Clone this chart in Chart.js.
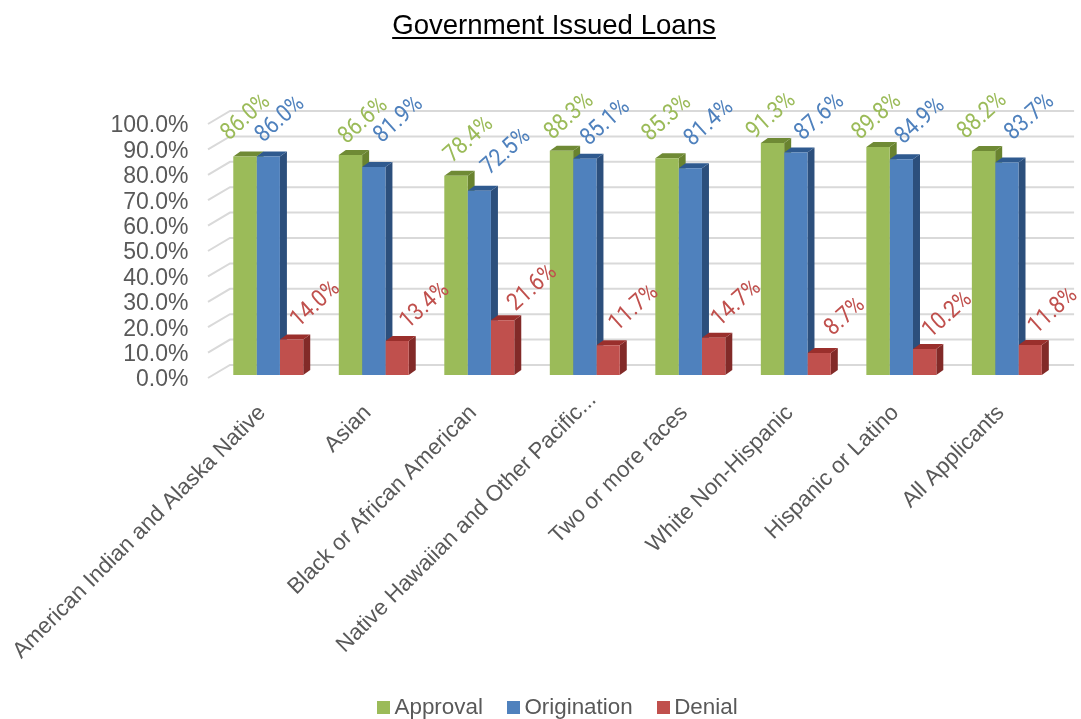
<!DOCTYPE html>
<html>
<head>
<meta charset="utf-8">
<title>Government Issued Loans</title>
<script src="https://cdn.jsdelivr.net/npm/chart.js@4/dist/chart.umd.min.js"></script>
<style>
  html, body { margin: 0; padding: 0; background: #fff; }
  #wrap { position: relative; width: 1081px; height: 719px; overflow: hidden; font-family: "Liberation Sans", sans-serif; }
  #title { position: absolute; left: 354px; width: 400px; top: 8px; margin: 0; text-align: center; font-size: 27.6px; line-height: 34px; font-weight: normal; color: #000; text-decoration: underline; text-decoration-thickness: 2px; text-underline-offset: 3px; }
  #legend { position: absolute; left: 377px; top: 694px; display: flex; font-size: 22.4px; line-height: 26px; color: #595959; }
  #legend .item { display: flex; align-items: center; margin-right: 24px; }
  #legend .box { width: 13px; height: 13px; margin-right: 4.5px; }
</style>
</head>
<body>
<div id="wrap">
  <h1 id="title">Government Issued Loans</h1>
  <canvas id="loans" width="1081" height="719"></canvas>
  <div id="legend"></div>
</div>
<script>
const categories = ['American Indian and Alaska Native', 'Asian', 'Black or African American', 'Native Hawaiian and Other Pacific...', 'Two or more races', 'White Non-Hispanic', 'Hispanic or Latino', 'All Applicants'];

const approval = [86.0, 86.6, 78.4, 88.3, 85.3, 91.3, 89.8, 88.2];
const origination = [86.0, 81.9, 72.5, 85.1, 81.4, 87.6, 84.9, 83.7];
const denial = [14.0, 13.4, 21.6, 11.7, 14.7, 8.7, 10.2, 11.8];

const seriesNames = ['Approval', 'Origination', 'Denial'];

//front, top and side face of each series, light to dark
const frontColors = ['#9bbb59', '#4f81bd', '#c0504d'];
const topColors = ['#6f8a35', '#2f5a8f', '#9a2f2c'];
const sideColors = ['#69832f', '#2c4f7c', '#822a28'];

//hand placed value labels, distance from the bar's top centre
const labelNudges = [
  [[1, -39], [13, -34], [13, -36], [8, -34], [0, -40], [-1, -27], [-1, -30], [-1, -35]],
  [[12, -37], [25, -47], [27, -39], [21, -36], [19, -45], [24, -35], [19, -38], [23, -45]],
  [[24, -35], [28, -35], [30, -32], [26, -37], [23, -34], [26, -36], [23, -34], [23, -34]]
];

//how far the bars and the back wall sit behind the front plane
const BAR_DEPTH = { x: 7, y: 5 };
const WALL_DEPTH = { x: 14.5, y: 10 };

const FONT = '"Liberation Sans", sans-serif';

/* Back wall lines with the short slanted piece on the side wall.
   Replaces the normal grid, which can't be pushed behind the bars. */
const wallGrid = {
  id: 'wallGrid',
  beforeDatasetsDraw(chart) {
    const { ctx, chartArea, scales } = chart;
    const backLeft = chartArea.left + WALL_DEPTH.x;
    const backRight = chartArea.right + WALL_DEPTH.x;
    ctx.save();
    ctx.strokeStyle = '#d9d9d9';
    ctx.lineWidth = 2;
    scales.y.ticks.forEach(tick => {
      const y = scales.y.getPixelForValue(tick.value) - WALL_DEPTH.y;
      ctx.beginPath();
      ctx.moveTo(backLeft - 22, y + 13);
      ctx.lineTo(backLeft, y);
      ctx.lineTo(backRight, y);
      ctx.stroke();
    });
    ctx.restore();
  }
};

/* Top and side faces, painted series by series so a lower bar's top
   covers the side of its taller neighbour. The library then fills the fronts. */
const barFaces = {
  id: 'barFaces',
  beforeDatasetsDraw(chart) {
    const { ctx } = chart;
    ctx.save();
    chart.data.datasets.forEach((dataset, d) => {
      chart.getDatasetMeta(d).data.forEach(bar => {
        const { x, y, base, width } = bar.getProps(['x', 'y', 'base', 'width'], true);
        const left = x - width / 2;
        const right = x + width / 2;

        ctx.fillStyle = sideColors[d];
        ctx.beginPath();
        ctx.moveTo(right, y);
        ctx.lineTo(right + BAR_DEPTH.x, y - BAR_DEPTH.y);
        ctx.lineTo(right + BAR_DEPTH.x, base - BAR_DEPTH.y);
        ctx.lineTo(right, base);
        ctx.closePath();
        ctx.fill();

        ctx.fillStyle = topColors[d];
        ctx.beginPath();
        ctx.moveTo(left, y);
        ctx.lineTo(left + BAR_DEPTH.x, y - BAR_DEPTH.y);
        ctx.lineTo(right + BAR_DEPTH.x, y - BAR_DEPTH.y);
        ctx.lineTo(right, y);
        ctx.closePath();
        ctx.fill();
      });
    });
    ctx.restore();
  }
};

//slanted value labels above the bars, squeezed a little to a narrower cut
const valueLabels = {
  id: 'valueLabels',
  afterDatasetsDraw(chart) {
    const { ctx } = chart;
    ctx.save();
    ctx.font = '24px Roboto';
    ctx.textAlign = 'center';
    ctx.textBaseline = 'middle';
    chart.data.datasets.forEach((dataset, d) => {
      ctx.fillStyle = frontColors[d];
      chart.getDatasetMeta(d).data.forEach((bar, i) => {
        const nudge = labelNudges[d][i];
        ctx.save();
        ctx.translate(bar.x + nudge[0], bar.y + nudge[1]);
        ctx.rotate(-42 * Math.PI / 180);
        ctx.scale(0.88, 1);
        ctx.fillText(dataset.data[i].toFixed(1) + '%', 0, 0);
        ctx.restore();
      });
    });
    ctx.restore();
  }
};

//the truncated category label sits higher and further right than the others
const shiftLongLabel = {
  id: 'shiftLongLabel',
  afterLayout(chart) {
    const item = chart.scales.x.getLabelItems()[3];
    item.options.translation[0] += 14;
    item.options.translation[1] -= 13;
  }
};

const seriesValues = [approval, origination, denial];

const chart = new Chart(document.getElementById('loans'), {
  type: 'bar',
  data: {
    labels: categories,
    datasets: seriesNames.map((name, d) => ({
      label: name,
      data: seriesValues[d],
      backgroundColor: frontColors[d],
      categoryPercentage: 0.663,
      barPercentage: 1
    }))
  },
  options: {
    responsive: false,
    animation: false,
    layout: { padding: { top: 121, right: 21.4 } },
    plugins: {
      legend: { display: false },
      tooltip: { enabled: false }
    },
    scales: {
      x: {
        //the long slanted labels must not push the plot to the right
        afterFit: scale => {
          scale.height = 344;
          scale.paddingLeft = 0;
          scale.paddingRight = 0;
        },
        grid: { display: false },
        border: { display: false },
        ticks: {
          autoSkip: false,
          minRotation: 45,
          maxRotation: 45,
          padding: 17,
          labelOffset: -6,
          color: '#595959',
          font: { family: FONT, size: 22.3 }
        }
      },
      y: {
        min: 0,
        max: 100,
        afterFit: scale => { scale.width = 215.5; },
        grid: { display: false, drawTicks: false },
        border: { display: false },
        ticks: {
          stepSize: 10,
          autoSkip: false,
          padding: 27,
          labelOffset: 5,
          color: '#595959',
          font: { family: FONT, size: 23 },
          callback: value => value.toFixed(1) + '%'
        }
      }
    }
  },
  plugins: [wallGrid, barFaces, valueLabels, shiftLongLabel]
});

/* build the legend from the datasets */
const text = [];
chart.data.datasets.forEach(dataset => {
  text.push('<span class="item"><span class="box" style="background-color:' + dataset.backgroundColor + ';"></span>' + dataset.label + '</span>');
});
document.getElementById('legend').innerHTML = text.join('');
</script>
</body>
</html>
